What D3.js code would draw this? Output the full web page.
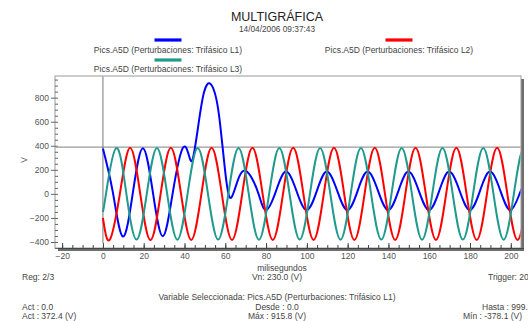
<!DOCTYPE html>
<html><head><meta charset="utf-8">
<script src="https://cdn.jsdelivr.net/npm/d3@7"></script>
<style>
html,body{margin:0;padding:0;background:#fff;}
svg{display:block;font-family:"Liberation Sans",Arial,sans-serif;}
</style></head>
<body>
<svg id="chart" width="528" height="321"></svg>
<script>
// ---- data ----
const title = "MULTIGRÁFICA";
const subtitle = "14/04/2006 09:37:43";
const seriesNames = ["Pics.A5D (Perturbaciones: Trifásico L1)",
                     "Pics.A5D (Perturbaciones: Trifásico L2)",
                     "Pics.A5D (Perturbaciones: Trifásico L3)"];
const seriesColors = ["#0000ff", "#ff0000", "#1f9a8c"];

// L1 (blue): time in ms, value in V
const l1Time = [0, 4.9, 9.8, 14.7, 19.6, 24.5, 29.4, 34.3, 39.3, 42.5, 44.3, 46.7, 49.5, 52.7, 55.6, 57.6, 59.8, 62.0, 64.5, 67.0, 69.6, 72.7, 76.3, 80.0,
  84.9, 89.8, 94.9, 99.9, 104.9, 109.8, 114.9, 119.9, 124.9, 129.8, 134.9, 139.9, 144.9, 149.8, 154.9, 159.9,
  164.9, 169.8, 174.9, 179.9, 184.9, 189.8, 194.9, 199.9, 204.9, 209.8];
const l1Value = [378, 10, -355, 12, 380, 12, -352, 15, 385, 300, 308, 560, 840, 916, 790, 560, 210, -25, 30, 150, 195, 140, 0, -135,
  25, 185, 25, -135, 25, 186, 25, -134, 25, 185, 25, -135, 25, 185, 25, -135,
  25, 185, 25, -134, 25, 185, 25, -135, 25, 185];

// L2 (red)
const l2Time = [0, 3.3, 8.3, 13.3, 18.3, 23.3, 28.3, 33.3, 38.3, 43.3, 48.3, 53.3, 58.3, 63.3, 68.3, 73.3, 78.3, 83.3, 88.3, 93.3, 98.3,
  103.3, 108.3, 113.3, 118.3, 123.3, 128.3, 133.3, 138.3, 143.3, 148.3, 153.3, 158.3, 163.3, 168.3, 173.3, 178.3, 183.3, 188.3, 193.3, 198.3, 203.3, 208.3];
const l2Value = [-200, -383, 0, 383, 0, -385, 0, 384, 0, -383, 0, 383, 0, -384, 0, 383, 0, -383, 0, 384, 0,
  -383, 0, 383, 0, -384, 0, 383, 0, -383, 0, 384, 0, -383, 0, 383, 0, -384, 0, 383, 0, -383, 0];

// L3 (teal)
const l3Time = [0, 1.5, 6.5, 11.5, 16.5, 21.5, 26.5, 31.5, 36.5, 41.5, 46.5, 51.5, 56.5, 61.5, 66.5, 71.5, 76.5, 81.5, 86.5, 91.5, 96.5,
  101.5, 106.5, 111.5, 116.5, 121.5, 126.5, 131.5, 136.5, 141.5, 146.5, 151.5, 156.5, 161.5, 166.5, 171.5, 176.5, 181.5, 186.5, 191.5, 196.5, 201.5, 206.5, 211.5];
const l3Value = [-150, 0, 381, 0, -380, 0, 382, 0, -381, 0, 381, 0, -380, 0, 382, 0, -381, 0, 381, 0, -380,
  0, 382, 0, -381, 0, 381, 0, -380, 0, 382, 0, -381, 0, 381, 0, -380, 0, 382, 0, -381, 0, 381, 0];

const cursorLevel = 388;
const xMajorTicks = [-20, 0, 20, 40, 60, 80, 100, 120, 140, 160, 180, 200];
const yMajorTicks = [-400, -200, 0, 200, 400, 600, 800];
const xLabel = "milisegundos";
const yLabel = "V";
const infoRows = [
  {left: "Reg: 2/3", mid: "Vn: 230.0 (V)", right: "Trigger: 20.0 (%)"},
  {mid: "Variable Seleccionada: Pics.A5D (Perturbaciones: Trifásico L1)"},
  {left: "Act : 0.0", mid: "Desde : 0.0", right: "Hasta : 999.9"},
  {left: "Act : 372.4 (V)", mid: "Máx : 915.8 (V)", right: "Mín : -378.1 (V)"}
];

// ---- drawing ----
const svg = d3.select("#chart");
const P = {left: 55, top: 76, right: 521, bottom: 248};
const x = d3.scaleLinear().domain([-23.5, 205]).range([P.left, P.right]);
const y = d3.scaleLinear().domain([-450, 980]).range([P.bottom, P.top]);

// titles
svg.append("text").attr("x", 277).attr("y", 21).attr("text-anchor", "middle")
  .attr("font-size", 12.5).attr("fill", "#222").text(title);
svg.append("text").attr("x", 277).attr("y", 32).attr("text-anchor", "middle")
  .attr("font-size", 8.3).attr("fill", "#444").text(subtitle);

// legend
const legendPos = [{cx: 168, sy: 40, ty: 53}, {cx: 399, sy: 40, ty: 53}, {cx: 168, sy: 60, ty: 72}];
seriesNames.forEach((n, i) => {
  const p = legendPos[i];
  svg.append("rect").attr("x", p.cx - 13.5).attr("y", p.sy - 1.6).attr("width", 27).attr("height", 3.2)
    .attr("fill", seriesColors[i]);
  svg.append("text").attr("x", p.cx).attr("y", p.ty).attr("text-anchor", "middle")
    .attr("font-size", 8.5).attr("fill", "#444").text(n);
});

// frame with shadow
svg.append("rect").attr("x", P.left + 3).attr("y", P.top + 3)
  .attr("width", P.right - P.left).attr("height", P.bottom - P.top).attr("fill", "#6e6e6e");
svg.append("rect").attr("x", P.left).attr("y", P.top)
  .attr("width", P.right - P.left).attr("height", P.bottom - P.top)
  .attr("fill", "#fff").attr("stroke", "#9a9a9a").attr("stroke-width", 1);

// axes
const xMinor = d3.range(-20, 205, 5);
const yMinor = d3.range(-450, 951, 50);
const gx = svg.append("g").attr("transform", `translate(0,${P.bottom})`);
gx.call(d3.axisBottom(x).tickValues(xMinor).tickSizeInner(-3).tickSizeOuter(0).tickFormat(""));
gx.call(g => g.select(".domain").remove());
const gx2 = svg.append("g").attr("transform", `translate(0,${P.bottom})`);
gx2.call(d3.axisBottom(x).tickValues(xMajorTicks).tickSizeInner(-5).tickSizeOuter(0).tickPadding(5)
  .tickFormat(d3.format("d")));
gx2.call(g => g.select(".domain").remove());
[gx, gx2].forEach(g => {
  g.selectAll("line").attr("stroke", "#444");
  g.selectAll("text").attr("font-size", 8.5).attr("fill", "#555").attr("font-family", "Liberation Sans, Arial, sans-serif");
});
svg.append("line").attr("x1", P.left).attr("x2", P.right + 3).attr("y1", P.bottom + 0.5).attr("y2", P.bottom + 0.5)
  .attr("stroke", "#444").attr("stroke-width", 1);

const gy = svg.append("g").attr("transform", `translate(${P.left},0)`);
gy.call(d3.axisRight(y).tickValues(yMinor).tickSizeInner(3).tickSizeOuter(0).tickFormat(""));
gy.call(g => g.select(".domain").remove());
const gy2 = svg.append("g").attr("transform", `translate(${P.left},0)`);
gy2.call(d3.axisLeft(y).tickValues(yMajorTicks).tickSizeInner(4).tickSizeOuter(0).tickPadding(2)
  .tickFormat(d3.format("d")));
gy2.call(g => g.select(".domain").remove());
[gy, gy2].forEach(g => {
  g.selectAll("line").attr("stroke", "#666");
  g.selectAll("text").attr("font-size", 8.5).attr("fill", "#555").attr("font-family", "Liberation Sans, Arial, sans-serif");
});

svg.append("text").attr("transform", "translate(27,160) rotate(-90)").attr("text-anchor", "middle")
  .attr("font-size", 8.5).attr("fill", "#555").text(yLabel);
svg.append("text").attr("x", 282).attr("y", 270.5).attr("text-anchor", "middle")
  .attr("font-size", 8.5).attr("fill", "#444").text(xLabel);

// clip
svg.append("clipPath").attr("id", "clip").append("rect")
  .attr("x", P.left + 0.5).attr("y", P.top + 0.5).attr("width", P.right - P.left - 1).attr("height", P.bottom - P.top - 1);
const plot = svg.append("g").attr("clip-path", "url(#clip)");

// cursor lines
plot.append("line").attr("x1", P.left).attr("x2", P.right).attr("y1", y(cursorLevel)).attr("y2", y(cursorLevel))
  .attr("stroke", "#9a9a9a").attr("stroke-width", 1.2);
plot.append("line").attr("x1", x(0)).attr("x2", x(0)).attr("y1", P.top).attr("y2", y(-410))
  .attr("stroke", "#777").attr("stroke-width", 1);

const line = d3.line().x(d => x(d[0])).y(d => y(d[1])).curve(d3.curveNatural);
const series = [
  d3.zip(l1Time, l1Value),
  d3.zip(l2Time, l2Value),
  d3.zip(l3Time, l3Value)
];
series.forEach((s, i) => {
  plot.append("path").attr("d", line(s)).attr("fill", "none")
    .attr("stroke", seriesColors[i]).attr("stroke-width", 2).attr("stroke-linejoin", "round");
});

// info rows
const rowY = [280, 300, 309.5, 319];
infoRows.forEach((r, i) => {
  if (r.left) svg.append("text").attr("x", 22).attr("y", rowY[i]).attr("font-size", 8.5).attr("fill", "#444").text(r.left);
  if (r.mid) svg.append("text").attr("x", 277).attr("y", rowY[i]).attr("text-anchor", "middle").attr("font-size", 8.5).attr("fill", "#444").text(r.mid);
  if (r.right) svg.append("text").attr("x", i === 3 ? 463 : (i === 0 ? 488 : 482)).attr("y", rowY[i]).attr("font-size", 8.5).attr("fill", "#444").text(r.right);
});
</script>
</body></html>
